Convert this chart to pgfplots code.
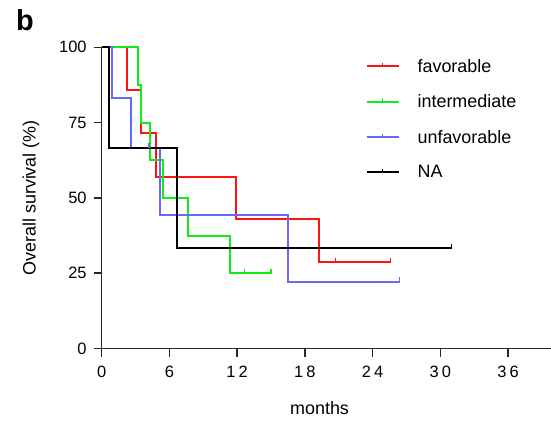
\documentclass[border=0pt]{standalone}
\usepackage{fontspec}
\setmainfont{Liberation Sans}
\usepackage{pgfplots}
\pgfplotsset{compat=1.18}
\usetikzlibrary{calc}
\definecolor{kmred}{RGB}{255,20,20}
\definecolor{kmgreen}{RGB}{20,235,20}
\definecolor{kmblue}{RGB}{105,105,245}
\definecolor{axgray}{RGB}{40,40,40}
\begin{document}
\begin{tikzpicture}
\begin{axis}[
  scale only axis, width=449.4bp, height=301.2bp,
  xmin=0, xmax=39.8, ymin=0, ymax=100,
  axis lines=left,
  axis line style={-, axgray, line width=1.7bp},
  tick align=outside, major tick length=8bp,
  tick style={axgray, line width=1.5bp},
  xtick={0,6,12,18,24,30,36},
  xticklabels={0,6,1\kern3pt2,1\kern3pt8,2\kern3pt4,3\kern3pt0,3\kern3pt6},
  ytick={0,25,50,75,100},
  tick label style={font=\fontsize{16.5}{18}\selectfont, text=black},
  xticklabel style={yshift=-6bp},
  yticklabel style={xshift=-3.5bp},
  /pgf/number format/assume math mode=true,
  xlabel={months}, ylabel={Overall survival (\%)},
  xlabel style={at={(axis description cs:0.485,-0.1975)}, anchor=center, font=\fontsize{18}{20}\selectfont},
  ylabel style={at={(axis description cs:-0.157,0.5)}, anchor=center, rotate=0, font=\fontsize{18}{20}\selectfont},
  legend style={at={(axis description cs:0.587,0.965)}, anchor=north west, draw=none, fill=none,
    font=\fontsize{18}{20}\selectfont, row sep=19bp, inner sep=0pt,
    nodes={inner sep=1bp}},
  legend cell align=left,
  legend image code/.code={
    \draw[line width=2bp] (0bp,0bp) -- (32bp,0bp);
    \draw[line width=1.4bp] (16bp,0bp) -- (16bp,3.5bp);},
  /tikz/every odd column/.append style={column sep=17bp},
  clip=false,
]
\coordinate (sw) at (rel axis cs:0,0);
% favorable
\addplot[kmred, line width=2bp, const plot] coordinates {
 (0,100) (2.22,85.7) (3.49,71.4) (4.84,57.1) (11.9,42.9) (19.27,28.6) (25.6,28.6)};
\addlegendentry{favorable}
% intermediate
\addplot[kmgreen, line width=2bp, const plot] coordinates {
 (0,100) (3.22,87.5) (3.45,75) (4.31,62.5) (5.43,50) (7.67,37.5) (11.39,25) (14.99,25)};
\addlegendentry{intermediate}
% unfavorable
\addplot[kmblue, line width=2bp, const plot] coordinates {
 (0,100) (0.92,83.3) (2.63,66.7) (5.17,44.4) (16.47,22.2) (26.4,22.2)};
\addlegendentry{unfavorable}
% NA
\addplot[black, line width=2bp, const plot] coordinates {
 (0,100) (0.65,66.7) (6.7,33.3) (30.98,33.3)};
\addlegendentry{NA}
% censor marks
\addplot[kmred, only marks, mark=|, mark size=2.5bp, mark options={yshift=2bp, line width=1.4bp}, forget plot] coordinates {(20.74,28.6) (25.6,28.6)};
\addplot[kmgreen, only marks, mark=|, mark size=2.5bp, mark options={yshift=2bp, line width=1.4bp}, forget plot] coordinates {(12.63,25) (14.99,25)};
\addplot[kmblue, only marks, mark=|, mark size=2.5bp, mark options={yshift=2bp, line width=1.4bp}, forget plot] coordinates {(4.2,66.7) (26.4,22.2)};
\addplot[black, only marks, mark=|, mark size=2.5bp, mark options={yshift=2bp, line width=1.4bp}, forget plot] coordinates {(30.98,33.3)};
\end{axis}
\coordinate (O) at ($(sw)+(-101.6bp,348.5bp)$);
\node[anchor=base west, inner sep=0pt, font=\bfseries\fontsize{29}{30}\selectfont] at ($(O)+(16bp,-31bp)$) {b};
\pgfresetboundingbox
\path[use as bounding box] (O) rectangle ($(O)+(551bp,-425bp)$);
\end{tikzpicture}
\end{document}
